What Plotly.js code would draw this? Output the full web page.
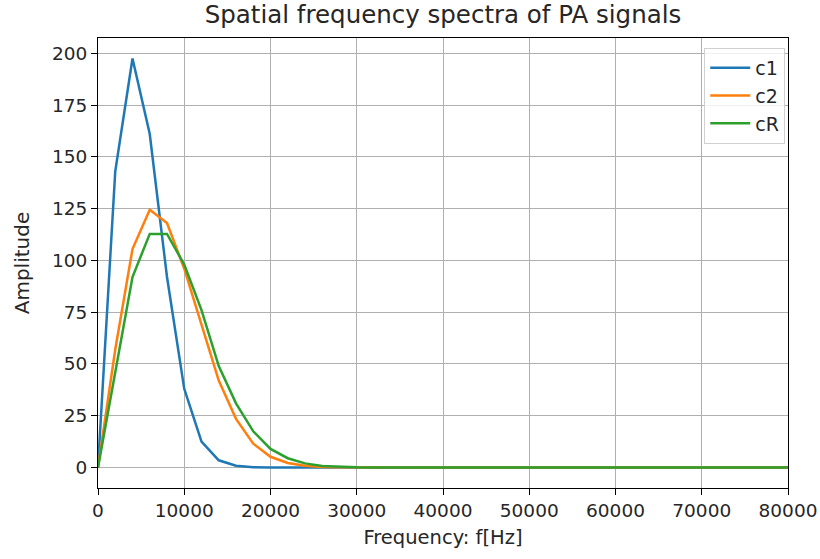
<!DOCTYPE html>
<html>
<head>
<meta charset="utf-8">
<script src="https://cdn.plot.ly/plotly-3.0.1.min.js"></script>
<style>
html, body { margin: 0; padding: 0; background: #fff; }
#chart { width: 820px; height: 559px; }
</style>
</head>
<body>
<div id="chart"></div>
<script>
// Frequency axis (Hz)
const freq = [0, 2000, 4000, 6000, 8000, 10000, 12000, 14000, 16000, 18000,
  20000, 22000, 24000, 26000, 28000, 30000, 32000, 34000, 36000, 38000,
  40000, 42000, 44000, 46000, 48000, 50000, 52000, 54000, 56000, 58000,
  60000, 62000, 64000, 66000, 68000, 70000, 72000, 74000, 76000, 78000, 80000];

// Amplitudes
const c1 = [0, 143, 197.5, 161, 92, 38, 12.5, 3.5, 0.9, 0.2,
  0.05, 0, 0, 0, 0, 0, 0, 0, 0, 0,
  0, 0, 0, 0, 0, 0, 0, 0, 0, 0,
  0, 0, 0, 0, 0, 0, 0, 0, 0, 0, 0];
const c2 = [0, 57, 105.5, 124.5, 118, 96, 69, 42, 23.5, 11.5,
  5.2, 2.2, 0.9, 0.3, 0.1, 0, 0, 0, 0, 0,
  0, 0, 0, 0, 0, 0, 0, 0, 0, 0,
  0, 0, 0, 0, 0, 0, 0, 0, 0, 0, 0];
const cR = [0, 47, 92, 112.8, 112.8, 98, 76, 49, 31, 17.5,
  9, 4.5, 2, 0.8, 0.3, 0.1, 0, 0, 0, 0,
  0, 0, 0, 0, 0, 0, 0, 0, 0, 0,
  0, 0, 0, 0, 0, 0, 0, 0, 0, 0, 0];

const seriesNames = ['c1', 'c2', 'cR'];
const seriesData = [c1, c2, cR];
const colors = ['#1f77b4', '#ff7f0e', '#2ca02c'];

const xTicks = [0, 10000, 20000, 30000, 40000, 50000, 60000, 70000, 80000];
const yTicks = [0, 25, 50, 75, 100, 125, 150, 175, 200];

const traces = seriesData.map((d, i) => ({
  x: freq, y: d, type: 'scatter', mode: 'lines', name: seriesNames[i],
  line: {color: colors[i], width: 2.5}
}));

const font = 'DejaVu Sans, sans-serif';
const layout = {
  width: 820, height: 559,
  margin: {l: 98, r: 32, t: 38, b: 71},
  paper_bgcolor: '#fff', plot_bgcolor: '#fff',
  font: {family: font, color: '#262626', size: 18.5},
  title: {text: 'Spatial frequency spectra of PA signals', font: {family: font, size: 24.5, color: '#262626'},
    xref: 'paper', x: 0.5, xanchor: 'center', y: 0.99, yanchor: 'top'},
  xaxis: {
    range: [0, 80000], tickvals: xTicks, ticktext: xTicks.map(String),
    showgrid: true, gridcolor: '#b0b0b0', gridwidth: 1,
    showline: true, linecolor: '#000', linewidth: 1, mirror: true,
    ticks: 'outside', ticklen: 6, tickcolor: '#000',
    zeroline: false, tickfont: {size: 18.5},
    title: {text: 'Frequency: f[Hz]', font: {size: 19.5}, standoff: 10}
  },
  yaxis: {
    range: [-9.875, 207.375], tickvals: yTicks, ticktext: yTicks.map(String),
    showgrid: true, gridcolor: '#b0b0b0', gridwidth: 1,
    showline: true, linecolor: '#000', linewidth: 1, mirror: true,
    ticks: 'outside', ticklen: 6, tickcolor: '#000',
    zeroline: false, tickfont: {size: 18.5},
    title: {text: 'Amplitude', font: {size: 20}, standoff: 16}
  },
  legend: {
    x: 0.996, xanchor: 'right', y: 0.978, yanchor: 'top',
    bgcolor: 'rgba(255,255,255,0.8)', bordercolor: '#d0d0d0', borderwidth: 1,
    font: {size: 19}, itemwidth: 40
  },
  showlegend: true
};

Plotly.newPlot('chart', traces, layout, {staticPlot: true, displayModeBar: false});
</script>
</body>
</html>
